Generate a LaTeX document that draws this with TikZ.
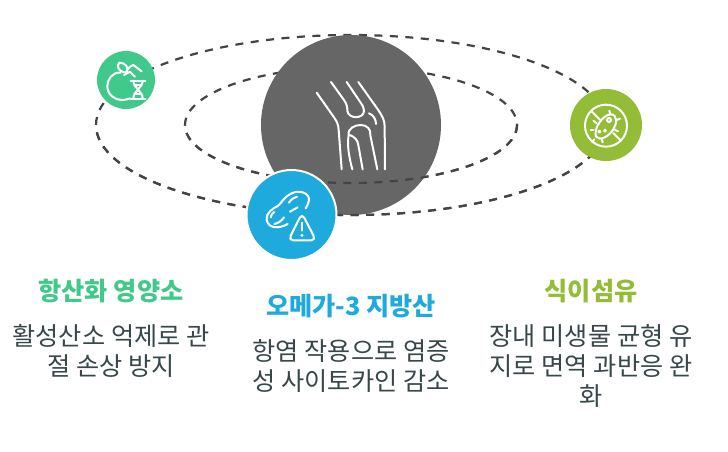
\documentclass[tikz,border=0pt]{standalone}
\usepackage{fontspec}
\setmainfont{Noto Sans CJK KR}
\definecolor{kneegrey}{HTML}{666666}
\definecolor{applegreen}{HTML}{41C98C}
\definecolor{nutblue}{HTML}{1EAADC}
\definecolor{fibreolive}{HTML}{93BD37}
\definecolor{bodyink}{HTML}{37474A}
\definecolor{orbitink}{HTML}{444444}

\begin{document}
\begin{tikzpicture}[x=1pt,y=-1pt,
		orbit/.style={draw=orbitink,line width=2.2pt,dash pattern=on 8pt off 7.5pt},
		disc/.style={circle,inner sep=0pt,draw=white,line width=2pt},
		icon/.style={draw=white,line width=2pt,line cap=round,line join=round},
		headline/.style={font=\fontsize{25.2}{30}\selectfont\bfseries,anchor=center},
		bodytext/.style={font=\fontsize{25.2}{30}\selectfont,text=bodyink,align=center,anchor=center}]
		\useasboundingbox (0,0) rectangle (728,451);
		\fill[white] (0,0) rectangle (728,451);
		% orbits and the knee
		\draw[orbit] (351,125) ellipse (255 and 90);
		\draw[orbit] (351,125) ellipse (166 and 58);
		\node[circle,inner sep=0pt,minimum size=180pt,fill=kneegrey] (knee) at (351,125) {};
		\begin{scope}
			\clip (90,125) rectangle (620,225);
			\draw[orbit] (351,125) ellipse (255 and 90);
			\draw[orbit] (351,125) ellipse (166 and 58);
		\end{scope}
		\begin{scope}[shift={(290,60)},x=0.3333pt,y=-0.3333pt]
			\draw[icon] (80,98) -- (132,172) .. controls (142,186) and (145,195) .. (146,210) -- (155,328);
			\draw[icon] (123,66) -- (162,120) .. controls (172,134) and (172,145) .. (172,152) .. controls (174,178) and (222,178) .. (222,152) .. controls (222,142) and (218,138) .. (212,128) -- (170,66);
			\draw[icon] (205,66) -- (262,146) .. controls (278,170) and (284,180) .. (284,200) -- (285,328);
			\draw[icon] (237,160) .. controls (250,165) and (258,178) .. (258,192);
			\draw[icon] (176,226) .. controls (172,205) and (195,195) .. (212,195) .. controls (232,195) and (243,208) .. (241,226) -- (262,328);
			\draw[icon] (176,226) .. controls (172,250) and (174,280) .. (187,328);
			\draw[icon] (180,225) .. controls (195,232) and (203,240) .. (205,255) -- (218,328);
		\end{scope}
		% apple and dna
		\node[circle,inner sep=0pt,minimum size=58pt,fill=applegreen] (apple) at (126,80) {};
		\begin{scope}[shift={(80,30)},x=0.3333pt,y=-0.3333pt]
			\draw[icon] (122,128) .. controls (98,125) and (82,148) .. (82,168) .. controls (82,195) and (105,210) .. (125,210) .. controls (135,210) and (143,208) .. (150,205);
			\draw[icon] (138,128) .. controls (115,125) and (108,108) .. (118,98) .. controls (135,98) and (150,112) .. (138,128);
			\draw[icon] (138,128) .. controls (142,115) and (152,108) .. (160,105) -- (185,124);
			\draw[icon] (132,135) -- (150,125) -- (165,140);
			\draw[icon] (152,152) -- (196,152);
			\draw[icon] (152,206) -- (196,206);
			\draw[icon] (160,152) .. controls (160,175) and (188,182) .. (188,206);
			\draw[icon] (188,152) .. controls (188,175) and (160,182) .. (160,206);
			\draw[icon] (164,166) -- (184,166);
			\draw[icon] (164,192) -- (184,192);
		\end{scope}
		% fibre and bacterium
		\node[circle,inner sep=0pt,minimum size=72pt,fill=fibreolive] (fibre) at (606,125) {};
		\begin{scope}[shift={(560,80)},x=0.3333pt,y=-0.3333pt]
			\draw[icon] (138,137) circle (63);
			\draw[icon] (94,93) -- (120,119);
			\draw[icon] (160,159) -- (182,181);
			\draw[icon] (108,170) .. controls (100,145) and (128,105) .. (152,103) .. controls (172,103) and (172,130) .. (160,148) .. controls (148,168) and (120,185) .. (108,170);
			\draw[icon] (147,120) circle (6);
			\draw[icon] (118,155) circle (3);
			\draw[icon] (135,152) circle (3);
			\draw[icon] (110,130) -- (100,122);
			\draw[icon] (100,150) -- (92,150);
			\draw[icon] (103,178) -- (96,186);
			\draw[icon] (125,178) -- (128,187);
			\draw[icon] (150,100) -- (148,92);
			\draw[icon] (170,120) -- (180,116);
			\draw[icon] (165,150) -- (174,154);
		\end{scope}
		% peanut and warning
		\node[disc,minimum size=90pt,fill=nutblue] (nut) at (291.5,215) {};
		\begin{scope}[shift={(235,160)},x=0.3333pt,y=-0.3333pt]
			\draw[icon] (158,192) .. controls (130,208) and (100,205) .. (95,180) .. controls (92,160) and (112,146) .. (128,138) .. controls (138,132) and (145,112) .. (170,100) .. controls (195,88) and (225,100) .. (222,122) .. controls (220,132) and (215,140) .. (212,145);
			\draw[icon] (162,128) .. controls (168,118) and (176,113) .. (186,110);
			\draw[icon] (165,155) -- (188,142);
			\draw[icon] (118,192) .. controls (130,190) and (140,182) .. (147,172);
			\draw[icon] (107,172) .. controls (108,165) and (112,160) .. (118,156);
			\draw[icon,rounded corners=5pt] (201,160) -- (243,241) -- (160,241) -- cycle;
			\draw[icon] (201,188) -- (201,212);
			\fill[white] (201,226) circle (5);
		\end{scope}
		% the three columns
		\node[headline,text=applegreen] (antioxhead) at (111,291) {항산화 영양소};
		\node[bodytext] (antioxbody) at (111,351) {활성산소 억제로 관\\절 손상 방지};
		\node[headline,text=nutblue] (omegahead) at (351,306) {오메가-3 지방산};
		\node[bodytext] (omegabody) at (351,366) {항염 작용으로 염증\\성 사이토카인 감소};
		\node[headline,text=fibreolive] (fibrehead) at (591,291) {식이섬유};
		\node[bodytext] (fibrebody) at (591,366) {장내 미생물 균형 유\\지로 면역 과반응 완\\화};
	\end{tikzpicture}
\end{document}
